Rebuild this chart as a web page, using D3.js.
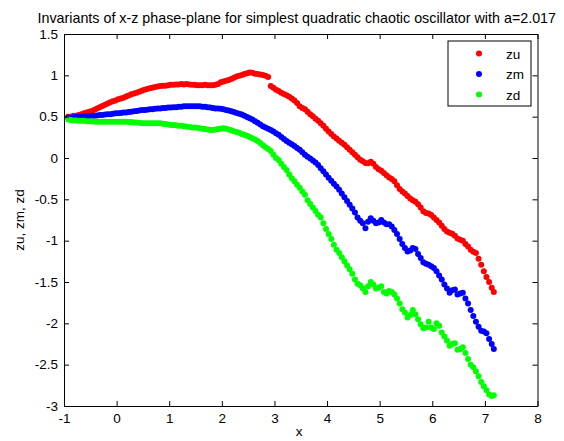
<!DOCTYPE html>
<html><head><meta charset="utf-8">
<script src="https://cdn.jsdelivr.net/npm/d3@7"></script>
<style>
html,body{margin:0;padding:0;background:#fff;}
text{font-family:"Liberation Sans",Arial,sans-serif;}
</style></head>
<body><svg id="chart" width="564" height="441"></svg>
<script>
const xVals = [
-0.92,-0.87,-0.82,-0.77,-0.72,-0.67,-0.62,-0.57,-0.52,-0.47,
-0.42,-0.37,-0.32,-0.27,-0.22,-0.17,-0.12,-0.07,-0.02,0.03,
0.08,0.13,0.18,0.23,0.28,0.33,0.38,0.43,0.48,0.53,
0.58,0.63,0.68,0.73,0.78,0.83,0.88,0.93,0.98,1.03,
1.08,1.13,1.18,1.23,1.28,1.33,1.38,1.43,1.48,1.53,
1.58,1.63,1.68,1.73,1.78,1.83,1.88,1.93,1.98,2.03,
2.08,2.13,2.18,2.23,2.28,2.33,2.38,2.43,2.48,2.53,
2.58,2.63,2.68,2.73,2.78,2.83,2.88,2.93,2.98,3.03,
3.08,3.13,3.18,3.23,3.28,3.33,3.38,3.43,3.48,3.53,
3.58,3.63,3.68,3.73,3.78,3.83,3.88,3.93,3.98,4.03,
4.08,4.13,4.18,4.23,4.28,4.33,4.38,4.43,4.48,4.53,
4.58,4.63,4.68,4.73,4.78,4.83,4.88,4.93,4.98,5.03,
5.08,5.13,5.18,5.23,5.28,5.33,5.38,5.43,5.48,5.53,
5.58,5.63,5.68,5.73,5.78,5.83,5.88,5.93,5.98,6.03,
6.08,6.13,6.18,6.23,6.28,6.33,6.38,6.43,6.48,6.53,
6.58,6.63,6.68,6.73,6.78,6.83,6.88,6.93,6.98,7.03,
7.08,7.13,7.17];

const zu = [
0.50,0.50,0.51,0.51,0.52,0.53,0.54,0.55,0.56,0.57,
0.585,0.60,0.615,0.63,0.645,0.66,0.675,0.685,0.695,0.71,
0.72,0.73,0.745,0.755,0.77,0.78,0.79,0.80,0.815,0.825,
0.835,0.845,0.85,0.86,0.865,0.87,0.875,0.875,0.88,0.885,
0.885,0.89,0.89,0.895,0.89,0.895,0.89,0.885,0.885,0.88,
0.88,0.88,0.885,0.88,0.88,0.88,0.885,0.895,0.915,0.925,
0.935,0.945,0.955,0.97,0.985,0.995,1.005,1.015,1.025,1.035,
1.03,1.02,1.015,1.01,1.005,0.995,0.98,0.87,0.85,0.825,
0.81,0.79,0.775,0.76,0.74,0.72,0.695,0.665,0.625,0.605,
0.59,0.56,0.53,0.505,0.475,0.45,0.42,0.39,0.355,0.32,
0.29,0.26,0.235,0.21,0.185,0.16,0.13,0.10,0.07,0.04,
0.01,-0.02,-0.04,-0.06,-0.065,-0.045,-0.07,-0.11,-0.135,-0.155,
-0.18,-0.21,-0.235,-0.255,-0.28,-0.33,-0.375,-0.405,-0.43,-0.46,
-0.49,-0.51,-0.53,-0.56,-0.60,-0.645,-0.665,-0.67,-0.69,-0.72,
-0.75,-0.78,-0.82,-0.86,-0.89,-0.905,-0.915,-0.94,-0.975,-0.99,
-1.00,-1.04,-1.07,-1.11,-1.135,-1.15,-1.22,-1.29,-1.37,-1.44,
-1.50,-1.57,-1.62];

const zm = [
0.49,0.49,0.495,0.495,0.50,0.50,0.505,0.505,0.505,0.51,
0.51,0.515,0.52,0.52,0.525,0.53,0.53,0.535,0.54,0.54,
0.545,0.55,0.55,0.555,0.56,0.565,0.57,0.575,0.58,0.58,
0.585,0.59,0.59,0.595,0.60,0.60,0.605,0.605,0.61,0.61,
0.615,0.615,0.62,0.62,0.625,0.625,0.625,0.625,0.625,0.625,
0.625,0.62,0.62,0.615,0.61,0.605,0.60,0.60,0.595,0.59,
0.58,0.575,0.565,0.555,0.545,0.535,0.525,0.51,0.495,0.48,
0.465,0.445,0.425,0.405,0.385,0.37,0.355,0.34,0.32,0.30,
0.28,0.255,0.23,0.205,0.185,0.165,0.145,0.12,0.10,0.07,
0.04,0.015,-0.005,-0.03,-0.055,-0.085,-0.125,-0.16,-0.2,-0.24,
-0.275,-0.31,-0.345,-0.385,-0.43,-0.475,-0.52,-0.565,-0.61,-0.66,
-0.72,-0.76,-0.79,-0.85,-0.77,-0.73,-0.76,-0.79,-0.78,-0.75,
-0.78,-0.80,-0.80,-0.83,-0.87,-0.92,-0.98,-1.04,-1.09,-1.13,
-1.12,-1.09,-1.10,-1.16,-1.21,-1.26,-1.28,-1.29,-1.31,-1.33,
-1.37,-1.42,-1.47,-1.53,-1.58,-1.63,-1.60,-1.59,-1.65,-1.64,
-1.63,-1.70,-1.76,-1.84,-1.91,-1.98,-2.04,-2.09,-2.10,-2.12,
-2.19,-2.25,-2.31];

const zd = [
0.465,0.46,0.455,0.455,0.45,0.45,0.45,0.445,0.445,0.445,
0.44,0.44,0.44,0.44,0.44,0.44,0.44,0.44,0.44,0.44,
0.44,0.44,0.44,0.435,0.435,0.43,0.43,0.425,0.42,0.42,
0.42,0.42,0.42,0.42,0.42,0.42,0.415,0.41,0.405,0.40,
0.40,0.395,0.39,0.39,0.385,0.38,0.375,0.37,0.37,0.365,
0.36,0.355,0.35,0.345,0.34,0.34,0.345,0.35,0.355,0.36,
0.355,0.345,0.335,0.325,0.315,0.305,0.29,0.28,0.27,0.255,
0.24,0.225,0.205,0.18,0.155,0.13,0.11,0.085,0.04,0.0,
-0.025,-0.07,-0.11,-0.145,-0.20,-0.245,-0.28,-0.325,-0.36,-0.405,
-0.445,-0.51,-0.555,-0.60,-0.64,-0.685,-0.72,-0.79,-0.86,-0.92,
-0.98,-1.05,-1.11,-1.15,-1.20,-1.25,-1.30,-1.345,-1.40,-1.47,
-1.52,-1.54,-1.58,-1.62,-1.55,-1.50,-1.53,-1.58,-1.57,-1.55,
-1.62,-1.64,-1.61,-1.62,-1.65,-1.70,-1.76,-1.83,-1.87,-1.93,
-1.90,-1.84,-1.89,-1.95,-2.01,-2.06,-2.05,-1.98,-2.05,-2.07,
-2.00,-2.03,-2.11,-2.16,-2.21,-2.27,-2.25,-2.24,-2.32,-2.31,
-2.29,-2.36,-2.43,-2.50,-2.53,-2.58,-2.64,-2.71,-2.76,-2.81,
-2.86,-2.88,-2.87];

const seriesNames = ["zu","zm","zd"];
const seriesColors = ["#ff0000","#0000ff","#00ff00"];
const xTicks = [-1,0,1,2,3,4,5,6,7,8];
const yTicks = [-3,-2.5,-2,-1.5,-1,-0.5,0,0.5,1,1.5];
const titleText = "Invariants of x-z phase-plane for simplest quadratic chaotic oscillator with a=2.017";
const xLabel = "x";
const yLabel = "zu, zm, zd";

const L = 64, R = 537.5, T = 34, B = 406;
const FS = 13.5;
const svg = d3.select("#chart");
const x = d3.scaleLinear().domain([-1, 8]).range([L, R]);
const y = d3.scaleLinear().domain([-3, 1.5]).range([B, T]);
const fmt = d => String(d);

svg.append("rect").attr("x",0).attr("y",0).attr("width",564).attr("height",441).attr("fill","#fff");

const series = [zu, zm, zd];
series.forEach((vals, i) => {
  svg.append("g").selectAll("circle").data(vals).join("circle")
    .attr("cx", (d, j) => x(xVals[j]))
    .attr("cy", d => y(d))
    .attr("r", 3)
    .attr("fill", seriesColors[i]);
});

function styleAxis(g){
  g.selectAll("path.domain").attr("stroke","#000").attr("stroke-width",1);
  g.selectAll(".tick line").attr("stroke","#000");
  g.selectAll(".tick text").attr("fill","#000").attr("font-size",FS)
   .attr("font-family","'Liberation Sans',Arial,sans-serif");
}
svg.append("g").attr("transform",`translate(0,${B})`)
  .call(d3.axisBottom(x).tickValues(xTicks).tickFormat(fmt).tickSizeInner(-5).tickSizeOuter(0).tickPadding(7))
  .call(styleAxis);
svg.append("g").attr("transform",`translate(0,${T})`)
  .call(d3.axisTop(x).tickValues(xTicks).tickFormat("").tickSizeInner(-5).tickSizeOuter(0))
  .call(styleAxis);
svg.append("g").attr("transform",`translate(${L},0)`)
  .call(d3.axisLeft(y).tickValues(yTicks).tickFormat(fmt).tickSizeInner(-5).tickSizeOuter(0).tickPadding(6))
  .call(styleAxis);
svg.append("g").attr("transform",`translate(${R},0)`)
  .call(d3.axisRight(y).tickValues(yTicks).tickFormat("").tickSizeInner(-5).tickSizeOuter(0))
  .call(styleAxis);

svg.append("text").attr("x", (L+R)/2 - 4).attr("y", 23).attr("text-anchor","middle")
  .attr("font-size",14.3).text(titleText);
svg.append("text").attr("x", 299).attr("y", 436).attr("text-anchor","middle")
  .attr("font-size",FS).text(xLabel);
svg.append("text").attr("transform",`translate(24,${(T+B)/2}) rotate(-90)`).attr("text-anchor","middle")
  .attr("font-size",FS).text(yLabel);

const lg = svg.append("g");
lg.append("rect").attr("x",448).attr("y",41).attr("width",83).attr("height",65)
  .attr("fill","#fff").attr("stroke","#000").attr("stroke-width",1);
seriesNames.forEach((n,i) => {
  const cy = 53.5 + i*20.5;
  lg.append("circle").attr("cx",479).attr("cy",cy).attr("r",3).attr("fill",seriesColors[i]);
  lg.append("text").attr("x",506).attr("y",cy+5).attr("font-size",FS).text(n);
});
</script></body></html>
